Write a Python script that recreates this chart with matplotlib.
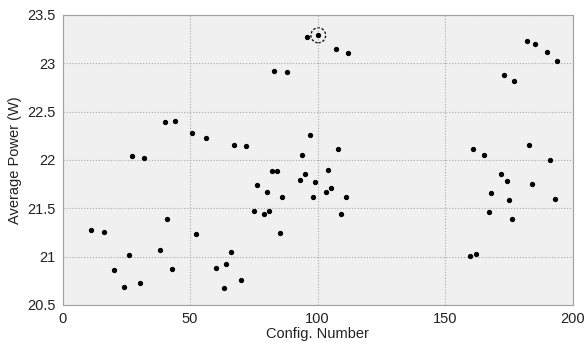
import matplotlib.pyplot as plt
from matplotlib.patches import Ellipse

plt.rcParams['font.family'] = ['Liberation Sans', 'DejaVu Sans']

# config numbers and measured average power
config = [11.2, 16.2, 20.2, 24.1, 26.1, 27.1, 30.3, 32.0, 38.2, 40.1,
          41.1, 43.1, 44.1, 50.9, 52.2, 56.2, 60.2, 63.2, 64.1, 66.1,
          67.1, 70.1, 72.1, 75.1, 76.1, 79.1, 80.1, 81.1, 82.0, 83.1,
          84.2, 85.2, 86.1, 88.0, 93.1, 94.0, 95.1, 96.0, 97.1, 98.1,
          99.1, 100.3, 103.2, 104.1, 105.2, 107.1, 108.1, 109.1, 111.2, 112.1,
          159.9, 161.1, 162.0, 165.3, 167.1, 168.2, 172.0, 173.3, 174.2, 175.1,
          176.1, 177.2, 182.2, 183.1, 184.2, 185.2, 190.1, 191.1, 193.1, 194.0]
power = [21.277, 21.256, 20.863, 20.684, 21.018, 22.045, 20.725, 22.025, 21.067, 22.397,
         21.393, 20.877, 22.407, 22.277, 21.239, 22.228, 20.887, 20.677, 20.922, 21.049,
         22.156, 20.76, 22.145, 21.476, 21.745, 21.439, 21.673, 21.476, 21.89, 22.921,
         21.89, 21.242, 21.614, 22.914, 21.794, 22.052, 21.853, 23.27, 22.262, 21.621,
         21.773, 23.29, 21.67, 21.894, 21.711, 23.15, 22.111, 21.442, 21.621, 23.11,
         21.008, 22.117, 21.025, 22.052, 21.463, 21.66, 21.853, 22.883, 21.783, 21.59,
         21.39, 22.817, 23.231, 22.156, 21.749, 23.203, 23.114, 22.004, 21.60, 23.021]

# highlighted best configuration
best_x, best_y = 100.3, 23.29

fig = plt.figure(figsize=(5.86, 3.43), dpi=100)
ax = fig.add_axes([0.1067, 0.1108, 0.8703, 0.8455])
ax.set_facecolor('#f0f0f0')

ax.plot(config, power, 'o', color='black', markersize=2.8, linestyle='none')
ax.add_patch(Ellipse((best_x, best_y), 5.8, 0.155, fill=False, linestyle=(0, (2, 1.5)),
                     edgecolor='black', linewidth=0.9))

ax.set_xlim(0, 200)
ax.set_ylim(20.5, 23.5)
ax.set_xticks([0, 50, 100, 150, 200])
ax.set_yticks([20.5, 21, 21.5, 22, 22.5, 23, 23.5])
ax.set_yticklabels(['20.5', '21', '21.5', '22', '22.5', '23', '23.5'])
ax.grid(True, linestyle=':', color='#a8a8a8', linewidth=0.8)
ax.tick_params(length=0, labelsize=10.5, pad=5, colors='#222222')
for s in ax.spines.values():
    s.set_color('#a0a0a0')
    s.set_linewidth(0.8)

ax.set_xlabel('Config. Number', fontsize=10.5, color='#222222', labelpad=1)
ax.set_ylabel('Average Power (W)', fontsize=10.5, color='#222222', labelpad=4)

fig.savefig('out.png', dpi=100)
